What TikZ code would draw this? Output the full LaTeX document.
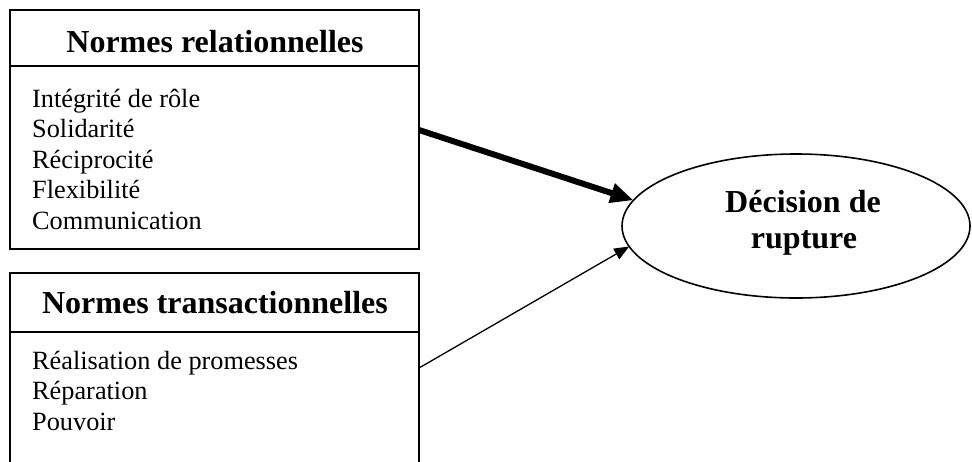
\documentclass[tikz,border=0pt]{standalone}
\usepackage{fontspec}
\setmainfont{Liberation Serif}
\usetikzlibrary{arrows.meta,shapes.geometric}

\begin{document}
\begin{tikzpicture}[x=1pt,y=-1pt,
  frame/.style={draw, line width=1.6pt, inner sep=0pt, outer sep=0pt, anchor=north west},
  head/.style={font=\fontsize{32}{36}\selectfont\bfseries, inner sep=0pt, anchor=base},
  item/.style={font=\fontsize{26.3}{30.5}\selectfont, inner sep=0pt, anchor=base west},
  goal/.style={font=\fontsize{32}{36}\selectfont\bfseries, inner sep=0pt, anchor=base},
  link/.style={-{Triangle[length=15pt,width=12pt]}, line width=1.3pt},
  strong/.style={-{Triangle[length=23pt,width=19pt]}, line width=6pt},
]
\useasboundingbox (0,0) rectangle (972,461);
\clip (0,0) rectangle (972,461);

% relational norms
\node[frame, minimum width=409pt, minimum height=56pt] (h1) at (10,10) {};
\node[frame, minimum width=409pt, minimum height=183pt] (b1) at (h1.south west) {};
\node[head] (n1) at (215,52) {Normes relationnelles};
\node[item] (r1) at (32,107) {Intégrité de rôle};
\node[item] (r2) at (32,137.5) {Solidarité};
\node[item] (r3) at (32,168) {Réciprocité};
\node[item] (r4) at (32,198.5) {Flexibilité};
\node[item] (r5) at (32,229) {Communication};

% transactional norms (box runs past the bottom edge)
\node[frame, minimum width=409pt, minimum height=59pt] (h2) at (10,273) {};
\node[frame, minimum width=409pt, minimum height=160pt] (b2) at (h2.south west) {};
\node[head] (n2) at (215,313) {Normes transactionnelles};
\node[item] (p1) at (32,369) {Réalisation de promesses};
\node[item] (p2) at (32,399.5) {Réparation};
\node[item] (p3) at (32,430) {Pouvoir};

% outcome
\node[draw, ellipse, line width=1.6pt, inner sep=0pt, outer sep=0pt,
      minimum width=348pt, minimum height=144pt] (e) at (796,226) {};
\node[goal] (g1) at (803,212) {Décision de};
\node[goal] (g2) at (804,248) {rupture};

% influences
\coordinate (s1) at (419,130);
\coordinate (s2) at (419,368);
\draw[strong] (s1) -- (e.171.6);
\draw[link] (s2) -- (e.187.4);
\end{tikzpicture}
\end{document}
